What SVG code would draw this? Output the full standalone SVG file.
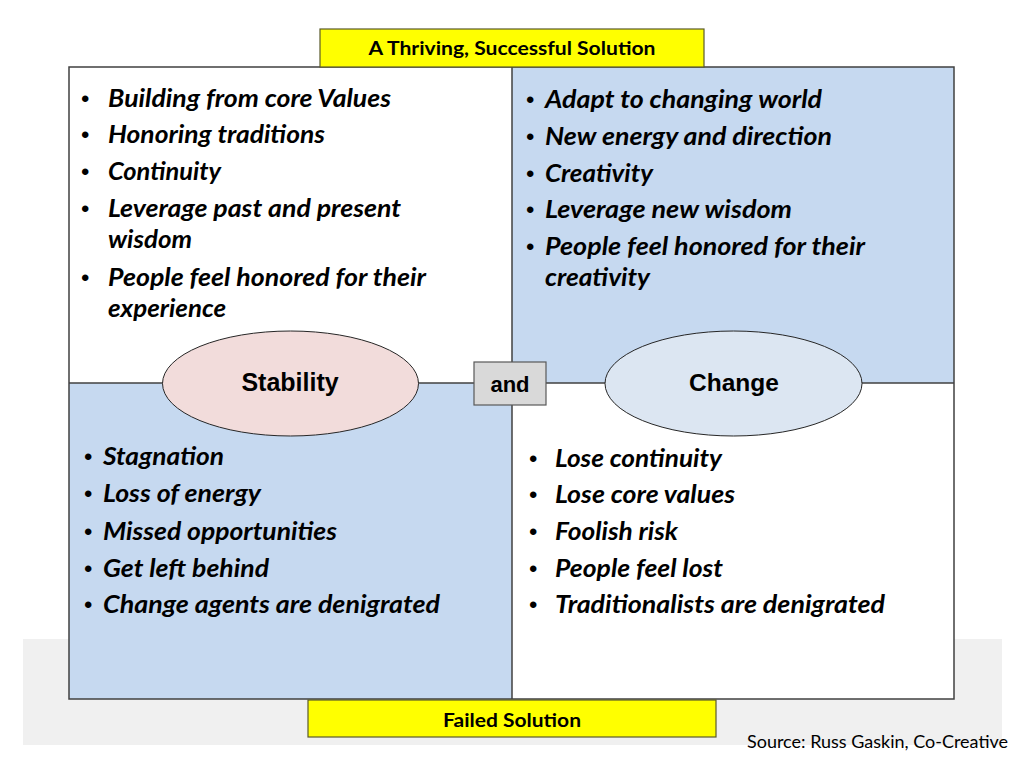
<svg xmlns="http://www.w3.org/2000/svg" width="1024" height="768" viewBox="0 0 1024 768">
  <style>
    .bul { font-family: "Lato", "Open Sans", "Liberation Sans", sans-serif; font-size: 24px; font-weight: bold; font-style: italic; fill: #000; }
    .dot { font-family: "Liberation Sans", Arial, sans-serif; font-size: 24px; fill: #000; }
    .ttl { font-family: "Lato", "Open Sans", "Liberation Sans", sans-serif; font-size: 18px; font-weight: bold; fill: #000; }
    .lbl { font-family: "Liberation Sans", Arial, sans-serif; font-weight: bold; fill: #000; text-anchor: middle; }
    .src { font-family: "Lato", "Open Sans", "Liberation Sans", sans-serif; font-size: 18px; fill: #000; }
    .ybox { fill: #ffff00; stroke: #5a5a2a; stroke-width: 1.2; }
    .line { stroke: #404040; stroke-width: 1.5; fill: none; }
  </style>

  <rect width="1024" height="768" fill="#ffffff"/>

  <!-- background band -->
  <rect id="band" x="23" y="639" width="979" height="106" fill="#f0f0f0"/>

  <!-- quadrants -->
  <g id="quadrants">
    <rect id="q-top-left" x="69" y="67" width="443" height="316" fill="#ffffff"/>
    <rect id="q-top-right" x="512" y="67" width="442" height="316" fill="#c6d9f0"/>
    <rect id="q-bottom-left" x="69" y="383" width="443" height="316" fill="#c6d9f0"/>
    <rect id="q-bottom-right" x="512" y="383" width="442" height="316" fill="#ffffff"/>
    <rect x="69" y="67" width="885" height="632" class="line"/>
  </g>

  <!-- connectors / grid lines -->
  <g id="connectors">
    <line x1="512" y1="67" x2="512" y2="699" class="line"/>
    <line x1="69" y1="383" x2="954" y2="383" class="line"/>
  </g>

  <!-- top title -->
  <g id="title-top">
    <rect x="320" y="29" width="384" height="38" class="ybox"/>
    <text x="512" y="55" class="ttl" text-anchor="middle" textLength="287" lengthAdjust="spacingAndGlyphs">A Thriving, Successful Solution</text>
  </g>

  <!-- bottom title -->
  <g id="title-bottom">
    <rect x="308" y="700" width="408" height="37" class="ybox"/>
    <text x="512" y="727" class="ttl" text-anchor="middle" textLength="138" lengthAdjust="spacingAndGlyphs">Failed Solution</text>
  </g>

  <!-- top-left text -->
  <g id="text-top-left">
    <text x="81" y="107" class="dot">•</text>
    <text x="108" y="107" class="bul" textLength="283" lengthAdjust="spacingAndGlyphs">Building from core Values</text>
    <text x="81" y="143" class="dot">•</text>
    <text x="108" y="143" class="bul" textLength="217" lengthAdjust="spacingAndGlyphs">Honoring traditions</text>
    <text x="81" y="180" class="dot">•</text>
    <text x="108" y="180" class="bul" textLength="113" lengthAdjust="spacingAndGlyphs">Continuity</text>
    <text x="81" y="217" class="dot">•</text>
    <text x="108" y="217" class="bul" textLength="293" lengthAdjust="spacingAndGlyphs">Leverage past and present</text>
    <text x="108" y="248" class="bul" textLength="84" lengthAdjust="spacingAndGlyphs">wisdom</text>
    <text x="81" y="286" class="dot">•</text>
    <text x="108" y="286" class="bul" textLength="318" lengthAdjust="spacingAndGlyphs">People feel honored for their</text>
    <text x="108" y="317" class="bul" textLength="118" lengthAdjust="spacingAndGlyphs">experience</text>
  </g>

  <!-- top-right text -->
  <g id="text-top-right">
    <text x="526" y="108" class="dot">•</text>
    <text x="545" y="108" class="bul" textLength="277" lengthAdjust="spacingAndGlyphs">Adapt to changing world</text>
    <text x="526" y="145" class="dot">•</text>
    <text x="545" y="145" class="bul" textLength="287" lengthAdjust="spacingAndGlyphs">New energy and direction</text>
    <text x="526" y="182" class="dot">•</text>
    <text x="545" y="182" class="bul" textLength="108" lengthAdjust="spacingAndGlyphs">Creativity</text>
    <text x="526" y="218" class="dot">•</text>
    <text x="545" y="218" class="bul" textLength="247" lengthAdjust="spacingAndGlyphs">Leverage new wisdom</text>
    <text x="526" y="255" class="dot">•</text>
    <text x="545" y="255" class="bul" textLength="320" lengthAdjust="spacingAndGlyphs">People feel honored for their</text>
    <text x="545" y="286" class="bul" textLength="105" lengthAdjust="spacingAndGlyphs">creativity</text>
  </g>

  <!-- bottom-left text -->
  <g id="text-bottom-left">
    <text x="84" y="465" class="dot">•</text>
    <text x="103" y="465" class="bul" textLength="121" lengthAdjust="spacingAndGlyphs">Stagnation</text>
    <text x="84" y="502" class="dot">•</text>
    <text x="103" y="502" class="bul" textLength="158" lengthAdjust="spacingAndGlyphs">Loss of energy</text>
    <text x="84" y="540" class="dot">•</text>
    <text x="103" y="540" class="bul" textLength="234" lengthAdjust="spacingAndGlyphs">Missed opportunities</text>
    <text x="84" y="577" class="dot">•</text>
    <text x="103" y="577" class="bul" textLength="166" lengthAdjust="spacingAndGlyphs">Get left behind</text>
    <text x="84" y="613" class="dot">•</text>
    <text x="103" y="613" class="bul" textLength="337" lengthAdjust="spacingAndGlyphs">Change agents are denigrated</text>
  </g>

  <!-- bottom-right text -->
  <g id="text-bottom-right">
    <text x="529" y="467" class="dot">•</text>
    <text x="555" y="467" class="bul" textLength="167" lengthAdjust="spacingAndGlyphs">Lose continuity</text>
    <text x="529" y="503" class="dot">•</text>
    <text x="555" y="503" class="bul" textLength="180" lengthAdjust="spacingAndGlyphs">Lose core values</text>
    <text x="529" y="540" class="dot">•</text>
    <text x="555" y="540" class="bul" textLength="123" lengthAdjust="spacingAndGlyphs">Foolish risk</text>
    <text x="529" y="577" class="dot">•</text>
    <text x="555" y="577" class="bul" textLength="168" lengthAdjust="spacingAndGlyphs">People feel lost</text>
    <text x="529" y="613" class="dot">•</text>
    <text x="555" y="613" class="bul" textLength="330" lengthAdjust="spacingAndGlyphs">Traditionalists are denigrated</text>
  </g>

  <!-- Stability node -->
  <g id="node-stability">
    <ellipse cx="290.5" cy="383.5" rx="128" ry="52.5" fill="#f2dcdb" stroke="#262626" stroke-width="1"/>
    <text x="290" y="391" class="lbl" font-size="25">Stability</text>
  </g>

  <!-- and node -->
  <g id="node-and">
    <rect x="474" y="362" width="72" height="43" fill="#d9d9d9" stroke="#595959" stroke-width="1.2"/>
    <text x="510" y="392" class="lbl" font-size="22">and</text>
  </g>

  <!-- Change node -->
  <g id="node-change">
    <ellipse cx="733.5" cy="383.5" rx="128.5" ry="52.5" fill="#dce6f2" stroke="#262626" stroke-width="1"/>
    <text x="734" y="391" class="lbl" font-size="24.5">Change</text>
  </g>

  <!-- source -->
  <g id="source">
    <text x="747" y="748" class="src" textLength="261" lengthAdjust="spacingAndGlyphs">Source: Russ Gaskin, Co-Creative</text>
  </g>
</svg>
